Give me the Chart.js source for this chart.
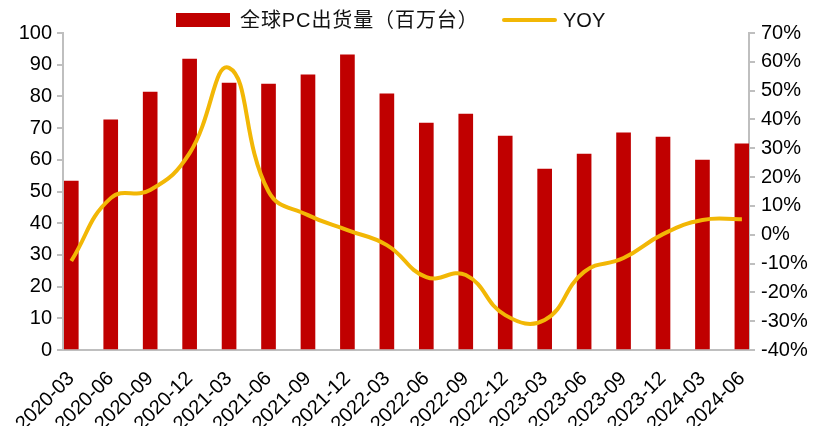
<!DOCTYPE html>
<html>
<head>
<meta charset="utf-8">
<script src="https://cdn.jsdelivr.net/npm/chart.js@4"></script>
<style>
  html, body { margin: 0; padding: 0; background: #fff; }
  #wrap { position: relative; width: 816px; height: 426px; }
  #legend { position: absolute; left: 0; top: 0; width: 816px; height: 34px;
    font-family: "Liberation Sans", Arial, "Noto Sans CJK SC", sans-serif; font-size: 20px; color: #111; }
  .sw-bar { position: absolute; left: 176px; top: 13px; width: 54px; height: 14px; background: #C00000; }
  .lbl-bar { position: absolute; left: 240px; top: 8px; line-height: 24px; white-space: nowrap; letter-spacing: 0.9px; }
  .sw-line { position: absolute; left: 502px; top: 18px; width: 55px; height: 4px; border-radius: 2px; background: #F2B705; }
  .lbl-line { position: absolute; left: 563px; top: 8px; line-height: 24px; }
</style>
</head>
<body>
<div id="wrap">
  <canvas id="chart" width="816" height="426"></canvas>
  <div id="legend">
    <div class="sw-bar"></div><div class="lbl-bar">全球PC出货量（百万台）</div>
    <div class="sw-line"></div><div class="lbl-line">YOY</div>
  </div>
</div>
<script>
const quarters = [
  "2020-03", "2020-06", "2020-09", "2020-12", "2021-03", "2021-06",
  "2021-09", "2021-12", "2022-03", "2022-06", "2022-09", "2022-12",
  "2023-03", "2023-06", "2023-09", "2023-12", "2024-03", "2024-06",
];
// 全球PC出货量（百万台）
const shipments = [
  53.3, 72.6, 81.4, 91.8, 84.2, 83.9, 86.8, 93.1, 80.8,
  71.6, 74.4, 67.5, 57.1, 61.8, 68.5, 67.2, 59.9, 65.0,
];
// YOY, %
const yoy = [
  -9.1, 12.7, 15.5, 28.3, 57.9, 15.0, 6.8, 1.6, -3.6,
  -14.7, -14.0, -27.9, -29.6, -12.9, -8.1, 0.2, 5.1, 5.4,
];
const leftTicks = [0, 10, 20, 30, 40, 50, 60, 70, 80, 90, 100];
const rightTicks = [-40, -30, -20, -10, 0, 10, 20, 30, 40, 50, 60, 70];

const AXIS = "#BFBFBF";
const FONT = { family: "'Liberation Sans', Arial, sans-serif", size: 20 };

const ctx = document.getElementById("chart").getContext("2d");

new Chart(ctx, {
  data: {
    datasets: [
      {
        type: "line",
        label: "YOY",
        data: yoy.map((v, i) => ({ x: i, y: v })),
        yAxisID: "y1",
        borderColor: "#F2B705",
        borderWidth: 4,
        tension: 0.45,
        pointRadius: 0,
        fill: false,
        order: 0,
      },
      {
        type: "bar",
        label: "全球PC出货量（百万台）",
        data: shipments.map((v, i) => ({ x: i, y: v })),
        yAxisID: "y",
        backgroundColor: "#C00000",
        barThickness: 14,
        order: 1,
      },
    ],
  },
  options: {
    responsive: false,
    animation: false,
    layout: { padding: { top: 33, left: 0, right: 0, bottom: 0 } },
    plugins: { legend: { display: false }, tooltip: { enabled: false } },
    scales: {
      x: {
        type: "linear",
        offset: false,
        min: -0.21,
        max: 17.18,
        grid: { display: false },
        border: { color: AXIS, width: 2 },
        afterFit: (s) => { s.height = 76; },
        ticks: {
          stepSize: 1,
          includeBounds: false,
          autoSkip: false,
          minRotation: 45,
          maxRotation: 45,
          padding: 9,
          color: "#000",
          font: FONT,
          callback: (v) => (Number.isInteger(v) ? quarters[v] : ""),
        },
      },
      y: {
        position: "left",
        min: 0,
        max: 100,
        afterFit: (s) => { s.width = 63; },
        afterBuildTicks: (s) => { s.ticks = leftTicks.map((v) => ({ value: v })); },
        grid: { drawOnChartArea: false, color: AXIS, lineWidth: 2, tickLength: 6 },
        border: { color: AXIS, width: 2 },
        ticks: { color: "#000", font: FONT, padding: 5 },
      },
      y1: {
        position: "right",
        min: -40,
        max: 70,
        afterFit: (s) => { s.width = 67; },
        afterBuildTicks: (s) => { s.ticks = rightTicks.map((v) => ({ value: v })); },
        grid: { drawOnChartArea: false, color: AXIS, lineWidth: 2, tickLength: 6 },
        border: { color: AXIS, width: 2 },
        ticks: { color: "#000", font: FONT, padding: 6, callback: (v) => v + "%" },
      },
    },
  },
});
</script>
</body>
</html>
